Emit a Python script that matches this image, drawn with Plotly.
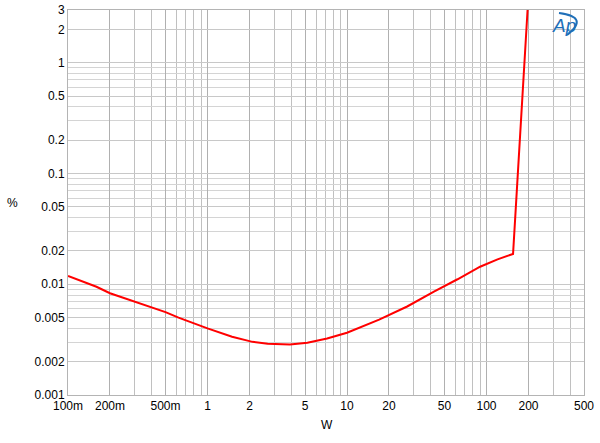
import plotly.graph_objects as go

power_w = [0.1, 0.16, 0.2, 0.3, 0.4, 0.5, 0.62, 0.8, 1.0, 1.5, 2.1, 2.7, 3.9, 5.2, 7.2,
           10, 12.5, 17, 27, 42, 62, 90, 120, 155, 197, 200]
thd_pct = [0.0119, 0.0095, 0.0083, 0.0070, 0.0062, 0.0056, 0.0050, 0.0044, 0.0040, 0.00336,
           0.00302, 0.0029, 0.00286, 0.00296, 0.00324, 0.00365, 0.0041, 0.0048, 0.0063,
           0.0086, 0.0111, 0.0144, 0.0168, 0.0188, 3.0, 4.1]

x_tickvals = [0.1, 0.2, 0.5, 1, 2, 5, 10, 20, 50, 100, 200, 500]
x_ticktext = ["100m", "200m", "500m", "1", "2", "5", "10", "20", "50", "100", "200", "500"]
y_tickvals = [0.001, 0.002, 0.005, 0.01, 0.02, 0.05, 0.1, 0.2, 0.5, 1, 2, 3]
y_ticktext = ["0.001", "0.002", "0.005", "0.01", "0.02", "0.05", "0.1", "0.2", "0.5", "1", "2", "3"]

x_minor = [m * d for d in [0.1, 1, 10, 100] for m in range(1, 10) if m * d <= 500]
x_minor = [v for v in x_minor if v not in x_tickvals]
y_minor = [m * d for d in [0.001, 0.01, 0.1, 1] for m in range(1, 10) if m * d <= 3]
y_minor = [v for v in y_minor if v not in y_tickvals]

fig = go.Figure()
fig.add_trace(go.Scatter(x=power_w, y=thd_pct, mode="lines",
                         line=dict(color="#ff0000", width=2), showlegend=False))

font = dict(family="Liberation Sans, Arial, sans-serif", size=12, color="#000000")
L, R, T, B = 68, 16, 10, 48
W, H = 600, 443
fig.update_layout(
    width=W, height=H,
    margin=dict(l=L, r=R, t=T, b=B, autoexpand=False),
    paper_bgcolor="white", plot_bgcolor="white",
    font=font,
    xaxis=dict(type="log", range=[-1, 2.69897], tickvals=x_tickvals, ticktext=x_ticktext,
               showgrid=True, gridcolor="#b0b0b0", gridwidth=1, ticks="", automargin=False,
               showline=True, linecolor="#b4b4b4", mirror=True, zeroline=False,
               minor=dict(tickvals=x_minor, showgrid=True, gridcolor="#c0c0c0", gridwidth=1, ticks=""),
               tickfont=font),
    yaxis=dict(type="log", range=[-3, 0.4771213], tickvals=y_tickvals, ticktext=y_ticktext,
               showgrid=True, gridcolor="#c8c8c8", gridwidth=1, ticks="", automargin=False,
               showline=True, linecolor="#b4b4b4", mirror=True, zeroline=False,
               minor=dict(tickvals=y_minor, showgrid=True, gridcolor="#d4d4d4", gridwidth=1, ticks=""),
               tickfont=font),
)

pw, ph = W - L - R, H - T - B
def px(xp): return (xp - L) / pw
def py(yp): return 1 - (yp - T) / ph

fig.add_annotation(text="%", x=px(12), y=py(203), xref="paper", yref="paper", showarrow=False,
                   xanchor="center", yanchor="middle", font=font)
fig.add_annotation(text="W", x=px(327), y=py(425), xref="paper", yref="paper", showarrow=False,
                   xanchor="center", yanchor="middle", font=font)
fig.add_annotation(text="<i>Ap</i>", x=px(564), y=py(25), xref="paper", yref="paper",
                   showarrow=False, xanchor="center", yanchor="middle",
                   font=dict(family="Liberation Sans, Arial, sans-serif", size=19, color="#1f6fb8"))
fig.add_shape(type="path", xref="paper", yref="paper",
              path=f"M {px(559)},{py(13)} Q {px(590)},{py(17)} {px(567)},{py(35)}",
              line=dict(color="#1f6fb8", width=2))

fig.write_html("out.html", config={"responsive": False, "displayModeBar": False},
               post_script="document.body.style.margin='0';document.body.style.overflow='hidden';")
